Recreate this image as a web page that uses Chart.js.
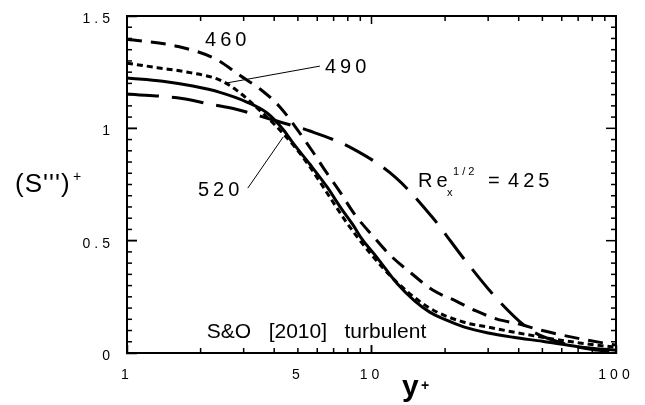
<!DOCTYPE html>
<html>
<head>
<meta charset="utf-8">
<script src="https://cdn.jsdelivr.net/npm/chart.js@4/dist/chart.umd.min.js"></script>
<style>html,body{margin:0;padding:0;background:#fff;}canvas{display:block;}</style>
</head>
<body>
<canvas id="c" width="645" height="405"></canvas>
<script>
// ---- data ----
const x425 = [1, 1.68, 2.18, 2.77, 3.96, 5.6, 8.3, 12.5, 17.7, 24.3, 33.5, 45, 60, 80, 100];
const y425 = [1.153, 1.133, 1.108, 1.086, 1.037, 0.988, 0.912, 0.783, 0.605, 0.409, 0.227, 0.10, 0.045, 0.015, 0.006];

const x460 = [1, 1.62, 2.31, 2.9, 3.5, 4.22, 5.65, 6.52, 7.43, 8.57, 10.05, 11.9, 14.5, 17.8, 22.2, 26.8, 32.6, 39.7, 50, 70, 100];
const y460 = [1.397, 1.364, 1.308, 1.235, 1.175, 1.095, 0.908, 0.806, 0.717, 0.614, 0.525, 0.436, 0.356, 0.280, 0.231, 0.187, 0.151, 0.13, 0.10, 0.065, 0.035];

const x490 = [1, 1.33, 1.81, 2.4, 2.82, 3.5, 4.03, 4.86, 5.6, 6.75, 7.93, 9.86, 12.7, 17.3, 23.7, 30, 50, 71, 100];
const y490 = [1.29, 1.27, 1.248, 1.215, 1.168, 1.079, 1.015, 0.917, 0.828, 0.694, 0.579, 0.445, 0.315, 0.20, 0.138, 0.115, 0.07, 0.045, 0.025];

const x520 = [1, 1.4, 1.86, 2.4, 3.09, 3.74, 4.35, 4.77, 5.6, 6.58, 7.5, 8.4, 9.1, 10.5, 12.7, 15, 17.3, 20.4, 24, 30, 38, 50, 71, 100];
const y520 = [1.224, 1.21, 1.188, 1.16, 1.117, 1.068, 0.995, 0.935, 0.84, 0.739, 0.645, 0.57, 0.51, 0.427, 0.31, 0.232, 0.182, 0.145, 0.115, 0.089, 0.07, 0.052, 0.027, 0.012];

const xTickValues = [1, 5, 10, 100];
const xTickLabels = ['1', '5', '10', '100'];
const xMajorTicks = [1, 10, 100];
const xMinorTicks = [2, 3, 4, 5, 6, 7, 8, 9, 20, 30, 40, 50, 60, 70, 80, 90];
const yTickValues = [0, 0.5, 1, 1.5];
const yTickLabels = ['0', '0.5', '1', '1.5'];
const yMinorTicks = [0.05, 0.1, 0.15, 0.2, 0.25, 0.3, 0.35, 0.4, 0.45,
                     0.55, 0.6, 0.65, 0.7, 0.75, 0.8, 0.85, 0.9, 0.95,
                     1.05, 1.1, 1.15, 1.2, 1.25, 1.3, 1.35, 1.4, 1.45];

const FONT = "'Liberation Sans', Arial, Helvetica, sans-serif";

function pts(xs, ys) { return xs.map((v, i) => ({x: v, y: ys[i]})); }

function ds(label, xs, ys, dash) {
  return {
    label: label,
    data: pts(xs, ys),
    xAxisID: 'x',
    yAxisID: 'y',
    borderColor: '#000',
    borderWidth: 3,
    borderDash: dash,
    borderCapStyle: 'butt',
    pointRadius: 0,
    fill: false,
    cubicInterpolationMode: 'monotone'
  };
}

function noPad(s) { s.paddingTop = 0; s.paddingBottom = 0; s.paddingLeft = 0; s.paddingRight = 0; }

function tickGrid(len, colorFn) {
  return {display: true, drawOnChartArea: false, drawTicks: true, tickLength: len,
          tickColor: colorFn || '#000', tickWidth: 1.5, color: '#000'};
}
const frameBorder = {display: true, color: '#000', width: 2};
const setTicks = list => (s => { s.ticks = list.map(v => ({value: v})); });

const annot = {
  id: 'annot',
  beforeDraw(chart) {
    chart.ctx.letterSpacing = '4px';
  },
  afterDraw(chart) {
    const ctx = chart.ctx;
    const sx = chart.scales.x, sy = chart.scales.y;
    const X = v => sx.getPixelForValue(v);
    const Y = v => sy.getPixelForValue(v);
    const L0 = X(1), R0 = X(100), B0 = Y(0), T0 = Y(1.5);
    ctx.save();
    ctx.setLineDash([]);
    ctx.letterSpacing = '0px';
    ctx.strokeStyle = '#000';
    ctx.fillStyle = '#000';

    // frame, filled as thin rectangles
    ctx.fillRect(L0 - 1, T0 - 1, R0 - L0 + 2, 2);
    ctx.fillRect(L0 - 1, B0 - 1, R0 - L0 + 2, 2);
    ctx.fillRect(L0 - 1, T0 - 1, 2, B0 - T0 + 2);
    ctx.fillRect(R0 - 1, T0 - 1, 2, B0 - T0 + 2);
    // y ticks, inside on both sides
    for (let i = 0; i <= 30; i++) {
      const py = Y(i * 0.05);
      const len = (i % 10 === 0) ? 10 : 5;
      ctx.fillRect(L0, py - 0.75, len, 1.5);
      ctx.fillRect(R0 - len, py - 0.75, len, 1.5);
    }
    // x ticks, inside on bottom and top
    for (let d = 1; d <= 100; d *= 10) {
      for (let m = 1; m < 10; m++) {
        const v = d * m;
        if (v > 100) break;
        const px = X(v);
        const len = (m === 1) ? 8 : 5;
        ctx.fillRect(px - 0.75, B0 - len, 1.5, len);
        ctx.fillRect(px - 0.75, T0, 1.5, len);
      }
    }

    const seg = (x1, y1, x2, y2) => { ctx.beginPath(); ctx.moveTo(x1, y1); ctx.lineTo(x2, y2); ctx.stroke(); };
    // leader lines
    ctx.lineWidth = 1;
    seg(X(6.15), Y(1.277), X(2.56), Y(1.202));
    seg(X(3.12), Y(0.734), X(4.35), Y(0.961));

    ctx.textBaseline = 'alphabetic';
    ctx.textAlign = 'left';
    ctx.font = '20px ' + FONT;
    ctx.letterSpacing = '4px';
    ctx.fillText('460', X(2.085), Y(1.366));
    ctx.fillText('490', X(6.45), Y(1.246));
    ctx.fillText('520', X(1.95), Y(0.699));

    // Re_x^{1/2} = 425
    const rx = X(15.5), ry = Y(0.739);
    ctx.font = '20px ' + FONT;
    ctx.letterSpacing = '4px';
    ctx.fillText('Re', rx, ry);
    ctx.font = '11px ' + FONT;
    ctx.letterSpacing = '0px';
    ctx.fillText('x', rx + 29, ry + 9);
    ctx.letterSpacing = '3px';
    ctx.fillText('1/2', rx + 35, ry - 12);
    ctx.font = '20px ' + FONT;
    ctx.letterSpacing = '0px';
    ctx.fillText('=', rx + 70, ry);
    ctx.letterSpacing = '4px';
    ctx.fillText('425', rx + 90, ry);

    // source note
    ctx.letterSpacing = '0px';
    ctx.font = '21px ' + FONT;
    ctx.fillText('S&O   [2010]   turbulent', X(2.12), Y(0.0668));

    // axis titles
    ctx.font = '26px ' + FONT;
    ctx.letterSpacing = '1px';
    ctx.fillText("(S''')", 15, 192);
    ctx.letterSpacing = '0px';
    ctx.font = '14px ' + FONT;
    ctx.fillText('+', 73, 181);

    ctx.font = 'bold 30px ' + FONT;
    ctx.fillText('y', 402, 396);
    ctx.font = 'bold 14px ' + FONT;
    ctx.fillText('+', 421, 390);
    ctx.restore();
  }
};

new Chart(document.getElementById('c'), {
  type: 'line',
  data: {
    datasets: [
      ds('Re_x^1/2 = 425', x425, y425, [32, 13]),
      ds('460', x460, y460, [15, 9]),
      ds('490', x490, y490, [6, 4]),
      ds('520', x520, y520, [])
    ]
  },
  options: {
    responsive: false,
    animation: false,
    devicePixelRatio: 1,
    layout: {padding: {top: 16, right: 29, left: 0, bottom: 0}},
    plugins: {legend: {display: false}, tooltip: {enabled: false}},
    scales: {
      x: {
        type: 'logarithmic', position: 'bottom',
        min: 1, max: 100,
        border: frameBorder,
        grid: tickGrid(-8, c => (c.tick && c.tick.value === 5) ? 'rgba(0,0,0,0)' : '#000'),
        afterBuildTicks: setTicks(xTickValues),
        afterFit: s => { s.height = 52; noPad(s); },
        ticks: {
          autoSkip: false, maxRotation: 0, padding: 22,
          color: '#000', font: {size: 14, family: FONT},
          callback: v => { const i = xTickValues.indexOf(v); return i >= 0 ? xTickLabels[i] : ''; }
        }
      },
      y: {
        type: 'linear', position: 'left',
        min: 0, max: 1.5,
        border: frameBorder,
        grid: tickGrid(-10),
        afterBuildTicks: setTicks(yTickValues),
        afterFit: s => { s.width = 127; noPad(s); },
        ticks: {
          autoSkip: false, padding: 23, labelOffset: 3,
          color: '#000', font: {size: 14, family: FONT},
          callback: v => { const i = yTickValues.indexOf(v); return i >= 0 ? yTickLabels[i] : ''; }
        }
      }
    }
  },
  plugins: [annot]
});
</script>
</body>
</html>
